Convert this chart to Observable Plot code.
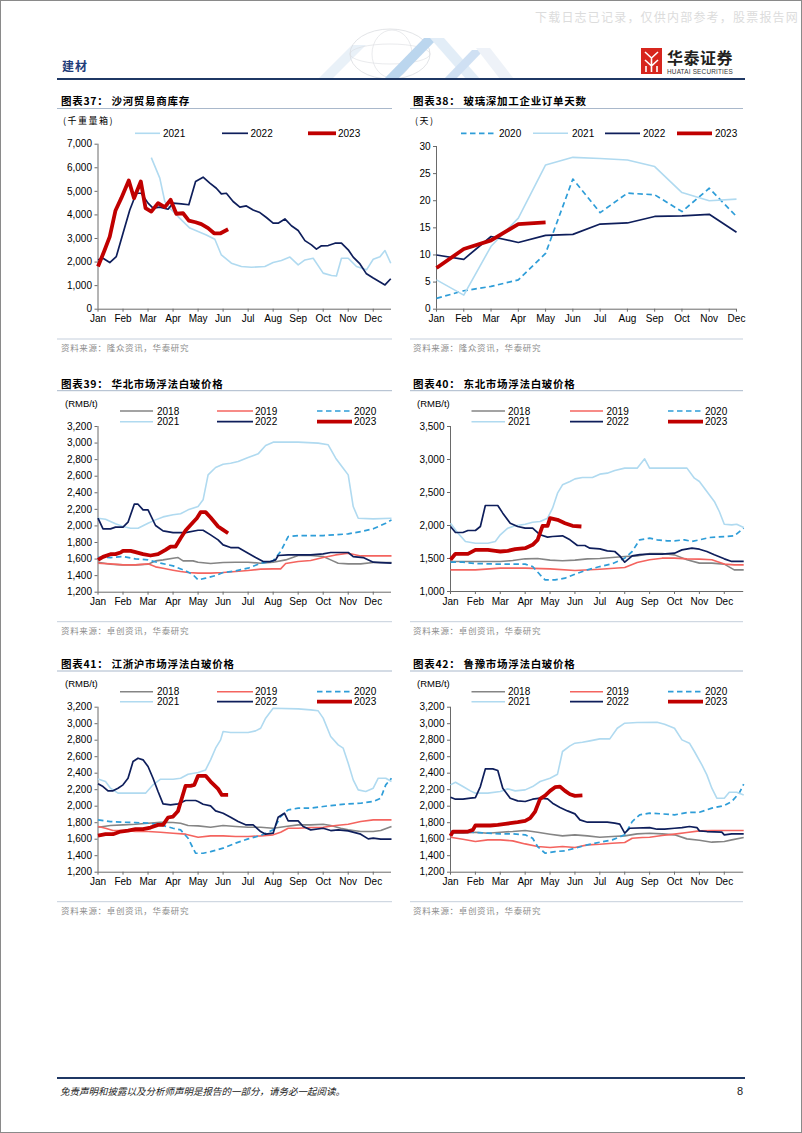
<!DOCTYPE html>
<html><head><meta charset="utf-8">
<script src="https://cdn.jsdelivr.net/npm/d3@7"></script>
<script src="https://cdn.jsdelivr.net/npm/@observablehq/plot@0.6"></script>
<style>
html,body{margin:0;padding:0;background:#fff;}
#page{position:relative;width:802px;height:1133px;overflow:hidden;box-sizing:border-box;border:1px solid #8a8a8a;background:#fff;}
.chart{position:absolute;}
</style></head>
<body><div id="page"></div>
<script>
// ---------- labels ----------
const months = ["Jan","Feb","Mar","Apr","May","Jun","Jul","Aug","Sep","Oct","Nov","Dec"];
const seriesNames = ["2018","2019","2020","2021","2022","2023"];

// ---------- Chart 37: 沙河贸易商库存 (千重量箱), x = month index ----------
const c37_2021 = [[2.13,6430],[2.47,5560],[2.67,4570],[2.87,4290],[3.2,3930],[3.67,3440],[4.0,3300],[4.33,3150],[4.67,2970],[4.93,2300],[5.33,1950],[5.73,1810],[6.13,1780],[6.67,1810],[7.0,1980],[7.33,2070],[7.67,2210],[8.0,1880],[8.27,2090],[8.6,2160],[9.0,1530],[9.33,1430],[9.53,1410],[9.73,2160],[10.0,2160],[10.33,1810],[10.73,1670],[11.0,2120],[11.27,2230],[11.47,2490],[11.7,1950]];
const c37_2022 = [[0,2100],[0.2,2160],[0.47,1980],[0.73,2230],[1.0,3220],[1.27,4210],[1.53,4920],[1.73,4920],[2.0,4500],[2.2,4290],[2.47,4330],[2.8,4240],[3.0,4500],[3.33,4470],[3.63,4430],[3.9,5420],[4.2,5600],[4.47,5350],[4.73,5130],[4.93,4890],[5.13,4920],[5.4,4570],[5.67,4330],[5.93,4380],[6.2,4210],[6.47,4100],[6.73,3890],[7.0,3650],[7.2,3650],[7.47,3830],[7.73,3540],[8.0,3340],[8.27,2910],[8.53,2730],[8.73,2550],[8.93,2690],[9.2,2700],[9.47,2800],[9.73,2800],[10.0,2520],[10.2,2210],[10.47,1920],[10.73,1500],[11.0,1320],[11.27,1150],[11.47,1030],[11.7,1290]];
const c37_2023 = [[0,1810],[0.27,2520],[0.47,3080],[0.7,4190],[0.93,4710],[1.23,5460],[1.44,4710],[1.71,5420],[1.9,4290],[2.13,4140],[2.4,4500],[2.67,4330],[2.9,4640],[3.13,4050],[3.4,4070],[3.63,3760],[3.9,3690],[4.13,3610],[4.4,3440],[4.64,3220],[4.9,3220],[5.2,3390]];
const c37_yTicks = [0,1000,2000,3000,4000,5000,6000,7000];

// ---------- Chart 38: 玻璃深加工企业订单天数 (天), monthly ----------
const c38_2020 = [2.0,3.4,4.2,5.4,10.3,24.0,17.8,21.4,21.1,18.0,22.3,17.1];
const c38_2021 = [5.4,2.6,11.6,16.8,26.6,28.0,27.8,27.5,26.3,21.5,20.0,20.3];
const c38_2022 = [10.0,9.2,13.4,12.3,13.6,13.8,15.7,15.9,17.1,17.2,17.5,14.2];
const c38_2023 = [7.6,11.1,12.7,15.7,16.0];
const c38_yTicks = [0,5,10,15,20,25,30];

// ---------- Chart 39: 华北市场浮法白玻价格 ----------
const c39_2018 = [[0,1562],[0.5,1538],[1,1530],[1.5,1530],[2,1538],[2.3,1578],[2.6,1590],[3,1610],[3.2,1618],[3.4,1578],[3.8,1578],[4,1562],[4.5,1546],[5,1558],[5.5,1562],[6,1562],[6.5,1550],[7,1562],[7.5,1590],[8,1643],[8.5,1643],[9,1630],[9.3,1590],[9.6,1550],[10,1542],[10.5,1542],[11,1558],[11.73,1558]];
const c39_2019 = [[0,1550],[0.5,1542],[1,1530],[1.5,1530],[2,1542],[2.3,1506],[2.6,1490],[3,1466],[3.3,1450],[3.6,1437],[4,1430],[4.5,1430],[5,1437],[5.5,1450],[6,1462],[6.5,1478],[7,1482],[7.3,1482],[7.5,1546],[8,1570],[8.5,1582],[9,1618],[9.5,1650],[10,1670],[10.5,1638],[11,1638],[11.73,1638]];
const c39_2020 = [[0,1622],[0.5,1618],[1,1630],[1.5,1602],[2,1590],[2.5,1550],[3,1518],[3.5,1458],[3.8,1410],[4,1349],[4.3,1369],[4.7,1401],[5,1437],[5.5,1458],[6,1490],[6.5,1550],[7,1578],[7.3,1691],[7.6,1872],[8,1884],[9,1884],[10,1904],[10.5,1932],[11,1965],[11.5,2033],[11.73,2073]];
const c39_2021 = [[0,2093],[0.3,2081],[0.7,2025],[1,1993],[1.3,1972],[1.6,1972],[2,2033],[2.3,2073],[2.6,2109],[3,2134],[3.3,2146],[3.6,2194],[4,2234],[4.2,2315],[4.4,2616],[4.7,2705],[5,2745],[5.3,2757],[5.6,2777],[6,2826],[6.4,2870],[6.7,2971],[7,3011],[8,3011],[8.8,2999],[9.2,2979],[9.5,2818],[9.8,2697],[10,2616],[10.2,2234],[10.4,2093],[11,2085],[11.73,2093]];
const c39_2022 = [[0,2093],[0.2,1965],[0.5,1965],[0.7,1985],[1,1985],[1.2,2045],[1.45,2262],[1.6,2262],[1.8,2194],[2,2194],[2.3,2005],[2.6,1940],[3,1920],[3.5,1920],[4,1948],[4.2,1948],[4.5,1892],[4.8,1832],[5,1771],[5.3,1739],[5.6,1739],[6,1671],[6.3,1618],[6.6,1570],[6.9,1570],[7.1,1590],[7.2,1643],[7.6,1651],[8.5,1651],[9,1663],[9.3,1679],[10,1679],[10.2,1630],[10.6,1618],[11,1562],[11.3,1558],[11.73,1550]];
const c39_2023 = [[0,1590],[0.2,1626],[0.5,1659],[0.7,1659],[0.9,1679],[1,1699],[1.3,1699],[1.5,1683],[1.8,1659],[2.1,1643],[2.4,1659],[2.7,1711],[2.9,1751],[3.1,1751],[3.3,1852],[3.5,1944],[3.8,2045],[3.95,2093],[4.1,2166],[4.3,2166],[4.5,2101],[4.8,1993],[5,1952],[5.2,1912]];

// ---------- Chart 40: 东北市场浮法白玻价格 ----------
const c40_2018 = [[0,1455],[1,1455],[2,1455],[2.5,1470],[3,1495],[3.5,1500],[4,1475],[4.5,1465],[5,1475],[5.5,1495],[6,1500],[6.5,1515],[7,1530],[7.5,1540],[8,1575],[8.5,1575],[9,1555],[9.5,1480],[10,1430],[10.5,1430],[11,1415],[11.4,1328],[11.78,1328]];
const c40_2019 = [[0,1328],[1,1328],[2,1354],[3,1354],[4,1343],[5,1318],[6,1338],[7,1364],[7.5,1440],[8,1480],[8.5,1505],[9,1505],[9.5,1495],[10,1490],[10.5,1480],[11,1415],[11.4,1404],[11.78,1404]];
const c40_2020 = [[0,1444],[0.5,1444],[1,1424],[2,1414],[3,1414],[3.3,1378],[3.6,1253],[3.8,1177],[4.2,1177],[4.6,1202],[5,1263],[5.5,1328],[6,1378],[6.5,1419],[7,1505],[7.3,1606],[7.6,1783],[8,1808],[8.3,1783],[8.7,1768],[9,1768],[9.4,1783],[9.7,1758],[10,1783],[10.4,1818],[11,1833],[11.4,1843],[11.78,1960]];
const c40_2021 = [[0,2035],[0.3,1884],[0.6,1758],[1,1732],[1.5,1732],[1.8,1758],[2,1859],[2.3,1960],[2.6,1995],[3,2020],[3.3,2050],[3.6,2060],[3.9,2111],[4.1,2263],[4.3,2490],[4.5,2616],[4.8,2667],[5,2707],[5.3,2727],[5.7,2727],[6,2778],[6.3,2793],[6.6,2833],[7,2869],[7.5,2869],[7.8,3010],[8,2869],[9.5,2869],[9.8,2717],[10,2667],[10.3,2515],[10.6,2364],[10.8,2212],[11,2020],[11.3,2010],[11.5,2020],[11.78,1970]];
const c40_2022 = [[0,1985],[0.2,1894],[0.5,1894],[0.7,1924],[1,1924],[1.2,1985],[1.4,2303],[1.9,2303],[2.1,2187],[2.4,2035],[2.7,1985],[3,1960],[3.3,1960],[3.6,1859],[3.9,1823],[4.1,1833],[4.5,1843],[4.8,1783],[5.1,1697],[5.4,1697],[5.6,1657],[6,1646],[6.3,1616],[6.6,1606],[6.8,1540],[7,1444],[7.3,1540],[7.6,1560],[8,1566],[8.5,1566],[9,1581],[9.3,1631],[9.7,1657],[10,1641],[10.3,1606],[10.6,1556],[11,1495],[11.3,1455],[11.78,1455]];
const c40_2023 = [[0,1480],[0.2,1571],[0.7,1571],[1,1631],[1.5,1631],[1.8,1616],[2,1606],[2.3,1616],[2.6,1641],[3,1657],[3.3,1707],[3.5,1783],[3.7,1995],[3.9,1995],[4,2111],[4.3,2086],[4.6,2035],[4.9,1995],[5.26,1985]];

// ---------- Chart 41: 江浙沪市场浮法白玻价格 ----------
const c41_2018 = [[0,1745],[0.5,1766],[1,1774],[1.5,1782],[2,1794],[2.5,1806],[3,1802],[3.3,1794],[3.6,1766],[4,1762],[4.5,1745],[5,1766],[5.5,1754],[6,1745],[6.5,1745],[7,1733],[7.5,1754],[8,1774],[8.5,1774],[9,1782],[9.3,1766],[9.7,1733],[10,1713],[10.5,1693],[11,1693],[11.3,1705],[11.73,1754]];
const c41_2019 = [[0,1754],[0.3,1733],[0.6,1705],[1,1705],[1.5,1693],[2,1693],[2.5,1685],[3,1673],[3.5,1661],[4,1624],[4.5,1640],[5,1640],[5.5,1632],[6,1632],[6.5,1640],[7,1653],[7.3,1685],[7.6,1733],[8,1733],[8.5,1741],[9,1745],[9.5,1766],[10,1782],[10.5,1814],[11,1834],[11.73,1834]];
const c41_2020 = [[0,1834],[0.5,1814],[1,1806],[1.5,1802],[2,1794],[2.5,1774],[3,1733],[3.3,1713],[3.6,1612],[3.9,1430],[4.2,1430],[4.5,1450],[5,1491],[5.5,1552],[6,1604],[6.5,1644],[7,1713],[7.3,1875],[7.6,1956],[8,1976],[8.5,1976],[9,1996],[9.3,2008],[10,2028],[10.5,2036],[11,2057],[11.3,2097],[11.5,2259],[11.73,2339]];
const c41_2021 = [[0,2331],[0.3,2299],[0.5,2218],[0.8,2158],[1.9,2158],[2.2,2259],[2.5,2327],[3,2327],[3.3,2339],[3.6,2388],[4,2408],[4.3,2440],[4.5,2562],[4.7,2703],[4.9,2804],[5,2905],[5.3,2893],[6,2893],[6.3,2913],[6.5,2945],[6.7,3067],[7,3188],[8,3180],[8.5,3168],[8.8,3156],[9,3067],[9.3,2844],[9.6,2743],[9.8,2703],[10,2521],[10.2,2319],[10.4,2198],[10.7,2178],[11,2218],[11.2,2339],[11.5,2339],[11.73,2299]];
const c41_2022 = [[0,2271],[0.2,2238],[0.4,2186],[0.6,2186],[0.8,2218],[1,2259],[1.2,2339],[1.4,2541],[1.6,2582],[1.8,2562],[2,2481],[2.2,2339],[2.4,2178],[2.6,2028],[2.9,2016],[3.2,2028],[3.5,2069],[3.9,2069],[4,2057],[4.2,2024],[4.5,2004],[4.7,1943],[5,1915],[5.3,1867],[5.6,1814],[5.9,1774],[6.2,1774],[6.5,1693],[6.7,1661],[7,1673],[7.2,1867],[7.45,1915],[7.6,1822],[8,1822],[8.2,1754],[8.5,1713],[9,1733],[9.3,1705],[9.6,1713],[10,1701],[10.5,1661],[10.8,1604],[11,1612],[11.3,1600],[11.73,1600]];
const c41_2023 = [[0,1644],[0.3,1661],[0.6,1661],[0.9,1693],[1.2,1705],[1.5,1721],[1.8,1721],[2.1,1741],[2.4,1774],[2.6,1774],[2.8,1863],[3,1875],[3.2,1943],[3.35,2097],[3.5,2247],[3.7,2247],[3.85,2259],[4,2368],[4.3,2368],[4.5,2299],[4.8,2210],[4.95,2137],[5.2,2137]];

// ---------- Chart 42: 鲁豫市场浮法白玻价格 ----------
const c42_2018 = [[0,1673],[0.5,1673],[1,1685],[1.5,1673],[2,1685],[2.5,1693],[3,1705],[3.5,1685],[4,1661],[4.5,1640],[5,1653],[5.5,1640],[6,1624],[6.5,1632],[7,1640],[7.5,1665],[8,1673],[8.5,1665],[9,1653],[9.5,1604],[10,1588],[10.5,1564],[11,1572],[11.3,1592],[11.78,1620]];
const c42_2019 = [[0,1624],[0.5,1600],[1,1572],[1.5,1592],[2,1592],[2.5,1580],[3,1543],[3.5,1511],[4,1499],[4.5,1511],[5,1499],[5.5,1531],[6,1539],[6.5,1551],[7,1560],[7.3,1612],[7.7,1620],[8,1624],[8.5,1644],[9,1661],[9.5,1681],[10,1701],[10.5,1705],[11,1705],[11.78,1705]];
const c42_2020 = [[0,1693],[0.5,1693],[1,1681],[1.5,1673],[2,1665],[2.5,1665],[3,1653],[3.3,1612],[3.5,1511],[3.8,1430],[4.2,1450],[4.6,1459],[5,1491],[5.5,1531],[6,1564],[6.5,1592],[7,1653],[7.3,1814],[7.6,1895],[8,1915],[8.5,1907],[9,1895],[9.5,1923],[10,1927],[10.5,1976],[11,2008],[11.3,2057],[11.6,2158],[11.78,2267]];
const c42_2021 = [[0,2259],[0.2,2291],[0.5,2238],[0.8,2186],[1,2158],[1.5,2158],[2,2178],[2.3,2210],[2.6,2186],[3,2198],[3.3,2238],[3.6,2299],[4,2339],[4.3,2388],[4.5,2663],[4.8,2731],[5,2764],[5.3,2776],[5.6,2792],[6,2816],[6.4,2816],[6.7,2945],[7,3006],[7.5,3014],[8.3,3018],[8.6,2994],[9,2945],[9.3,2804],[9.6,2764],[9.8,2663],[10.1,2501],[10.3,2380],[10.5,2218],[10.7,2097],[11,2097],[11.2,2170],[11.5,2170],[11.78,2137]];
const c42_2022 = [[0,2109],[0.2,2085],[0.5,2085],[0.8,2097],[1,2105],[1.2,2238],[1.4,2452],[1.7,2452],[1.9,2432],[2.1,2218],[2.4,2097],[2.7,2065],[3,2057],[3.3,2085],[3.6,2097],[3.9,2089],[4.1,2036],[4.4,1984],[4.7,1943],[5,1907],[5.2,1834],[5.5,1806],[6.3,1806],[6.6,1794],[6.8,1782],[7,1673],[7.2,1733],[8,1741],[8.3,1721],[8.6,1721],[9,1733],[9.3,1741],[9.6,1754],[9.9,1741],[10,1701],[10.3,1693],[10.9,1685],[11,1653],[11.3,1665],[11.78,1665]];
const c42_2023 = [[0,1640],[0.1,1693],[0.7,1693],[0.9,1713],[1,1766],[1.6,1766],[1.9,1774],[2.2,1786],[2.4,1794],[2.7,1806],[3,1822],[3.2,1855],[3.4,1935],[3.6,2089],[3.8,2129],[4,2186],[4.2,2230],[4.4,2238],[4.6,2186],[4.8,2145],[5,2125],[5.3,2130]];
const priceTicks = [1200,1400,1600,1800,2000,2200,2400,2600,2800,3000,3200];
const c40_yTicks = [1000,1500,2000,2500,3000,3500];

// ---------- styles (separate from data) ----------
const STY = {
  "2018": {stroke:"#858585", strokeWidth:1.6},
  "2019": {stroke:"#F4645F", strokeWidth:1.6},
  "2020": {stroke:"#2E9DD8", strokeWidth:1.7, strokeDasharray:"5.5,3.5"},
  "2021": {stroke:"#B0DAF0", strokeWidth:1.6},
  "2022": {stroke:"#0E1E5B", strokeWidth:1.7},
  "2023": {stroke:"#C00000", strokeWidth:3.8}
};
const AXIS = "#6a6a6a";
const FONT = "'Liberation Sans', Arial, sans-serif";
const CJK = "'Noto Sans CJK SC', 'Noto Sans', sans-serif";

const page = document.getElementById("page");

function drawChart(cfg) {
  const marks = [
    Plot.axisY({ticks: cfg.yTicks, tickFormat: d3.format(","), tickSize: 3, tickPadding: 3, stroke: AXIS, fill: "#000", label: null}),
    Plot.axisX({ticks: d3.range(12), tickFormat: i => months[i], tickSize: 3, tickPadding: 3, stroke: AXIS, fill: "#000", label: null}),
    Plot.ruleX([cfg.xDomain[0]], {stroke: AXIS, strokeWidth: 1}),
    Plot.ruleY([cfg.yDomain[0]], {stroke: AXIS, strokeWidth: 1})
  ];
  for (const [name, data] of cfg.series) {
    marks.push(Plot.line(data, {x: d => d[0], y: d => d[1], ...STY[name], strokeLinejoin: "round", strokeLinecap: "butt"}));
  }
  const svg = Plot.plot({
    width: cfg.width, height: cfg.height,
    marginLeft: cfg.mL, marginRight: cfg.mR, marginTop: cfg.mT, marginBottom: cfg.mB,
    x: {domain: cfg.xDomain},
    y: {domain: cfg.yDomain},
    style: {fontFamily: FONT, fontSize: "10px", color: "#000", background: "transparent", overflow: "visible"},
    marks
  });
  const div = document.createElement("div");
  div.className = "chart";
  div.style.left = cfg.left + "px";
  div.style.top = cfg.top + "px";
  div.appendChild(svg);
  page.appendChild(div);
}

const monthly = arr => arr.map((v, i) => [i, v]);

drawChart({left:50, top:135, width:350, height:195, mL:46.5, mR:10, mT:7.7, mB:22.3,
  xDomain:[0,11.73], yDomain:[0,7000], yTicks:c37_yTicks,
  series:[["2021",c37_2021],["2022",c37_2022],["2023",c37_2023]]});
drawChart({left:400, top:135, width:360, height:195, mL:35, mR:25, mT:10, mB:22.3,
  xDomain:[0,11], yDomain:[0,30], yTicks:c38_yTicks,
  series:[["2020",monthly(c38_2020)],["2021",monthly(c38_2021)],["2022",monthly(c38_2022)],["2023",monthly(c38_2023)]]});
const six = (a,b,c,d,e,f) => [["2018",a],["2019",b],["2020",c],["2021",d],["2022",e],["2023",f]];
drawChart({left:50, top:415, width:350, height:195, mL:46.5, mR:10, mT:10, mB:19.3,
  xDomain:[0,11.73], yDomain:[1200,3200], yTicks:priceTicks,
  series:six(c39_2018,c39_2019,c39_2020,c39_2021,c39_2022,c39_2023)});
drawChart({left:400, top:415, width:360, height:195, mL:49, mR:17.8, mT:10, mB:20,
  xDomain:[0,11.78], yDomain:[1000,3500], yTicks:c40_yTicks,
  series:six(c40_2018,c40_2019,c40_2020,c40_2021,c40_2022,c40_2023)});
drawChart({left:50, top:695, width:350, height:195, mL:46.5, mR:10, mT:10.7, mB:19.3,
  xDomain:[0,11.73], yDomain:[1200,3200], yTicks:priceTicks,
  series:six(c41_2018,c41_2019,c41_2020,c41_2021,c41_2022,c41_2023)});
drawChart({left:400, top:695, width:360, height:195, mL:49, mR:17.8, mT:10.7, mB:19.3,
  xDomain:[0,11.78], yDomain:[1200,3200], yTicks:priceTicks,
  series:six(c42_2018,c42_2019,c42_2020,c42_2021,c42_2022,c42_2023)});

// ---------- overlay: header, titles, legends, sources, footer ----------
const NS = "http://www.w3.org/2000/svg";
const ov = document.createElementNS(NS, "svg");
ov.setAttribute("width", 802); ov.setAttribute("height", 1133);
ov.style.position = "absolute"; ov.style.left = "-1px"; ov.style.top = "-1px"; ov.style.pointerEvents = "none";
page.appendChild(ov);
function el(tag, attrs, parent = ov) {
  const e = document.createElementNS(NS, tag);
  for (const k in attrs) e.setAttribute(k, attrs[k]);
  parent.appendChild(e);
  return e;
}
function txt(x, y, s, attrs = {}) {
  const t = el("text", Object.assign({x, y, "dominant-baseline": "central", "font-family": CJK, "font-size": 10, fill: "#000"}, attrs));
  t.textContent = s;
  return t;
}
function hline(x1, x2, y, stroke, w) { el("line", {x1, x2, y1: y, y2: y, stroke, "stroke-width": w}); }

// watermark
txt(535, 16, "下载日志已记录，仅供内部参考，股票报告网", {"font-size": 12, fill: "#dcdcdc", "letter-spacing": 1.2});
// decorative header graphic
const g = el("g", {opacity: 0.6});
el("polygon", {points: "318,79 352,45 366,45 332,79", fill: "#dbe8f4"}, g);
el("ellipse", {cx: 390, cy: 54, rx: 40, ry: 25, fill: "none", stroke: "#c4c8ce", "stroke-width": 0.8}, g);
el("ellipse", {cx: 392, cy: 54, rx: 20, ry: 24, fill: "none", stroke: "#c4c8ce", "stroke-width": 0.6}, g);
el("ellipse", {cx: 390, cy: 54, rx: 40, ry: 10, fill: "none", stroke: "#c4c8ce", "stroke-width": 0.6}, g);
el("polygon", {points: "384,79 424,38 438,38 398,79", fill: "#8fbbe3"}, g);
el("polygon", {points: "430,38 444,38 480,79 466,79", fill: "#d0e2f3"}, g);
el("polygon", {points: "444,79 472,50 484,50 456,79", fill: "#b0cdec"}, g);
el("polygon", {points: "476,48 490,48 514,79 500,79", fill: "#e3ebf4"}, g);
// header
txt(62, 65, "建材", {"font-size": 12, "font-weight": 700, fill: "#1f3d7a", "letter-spacing": 1});
hline(57, 745, 79, "#1f3864", 2);
// logo
el("rect", {x: 641, y: 48, width: 21, height: 26, fill: "#d7261e"});
el("path", {d: "M645,52 L651.5,58 L658,52 M645,60 L651.5,66 L658,60 M651.5,58 V72 M646,66 V72 M657,66 V72", stroke: "#fff", "stroke-width": 1.6, fill: "none"});
txt(667, 57, "华泰证券", {"font-size": 16, "font-weight": 700, fill: "#231f20", "letter-spacing": 0.5});
txt(667, 71, "HUATAI SECURITIES", {"font-size": 6.4, "font-family": FONT, fill: "#333", "letter-spacing": 0.2});

// panel decorations
const panels = [
  {x: 57, x2: 392, tx: 61, ty: 100, ul: 108.5, title: "图表37：  沙河贸易商库存", unit: "(千重量箱)", uy: 120, src: "资料来源：隆众资讯，华泰研究", sl: 339, sy: 347},
  {x: 410, x2: 743, tx: 413, ty: 100, ul: 108.5, title: "图表38：  玻璃深加工企业订单天数", unit: "(天)", uy: 120, src: "资料来源：隆众资讯，华泰研究", sl: 339, sy: 347},
  {x: 57, x2: 392, tx: 61, ty: 383, ul: 390.7, title: "图表39：  华北市场浮法白玻价格", unit: "(RMB/t)", uy: 403.5, src: "资料来源：卓创资讯，华泰研究", sl: 621.7, sy: 629.5},
  {x: 410, x2: 743, tx: 413, ty: 383, ul: 390.7, title: "图表40：  东北市场浮法白玻价格", unit: "(RMB/t)", uy: 403.5, src: "资料来源：卓创资讯，华泰研究", sl: 621.7, sy: 629.5},
  {x: 57, x2: 392, tx: 61, ty: 663.5, ul: 671, title: "图表41：  江浙沪市场浮法白玻价格", unit: "(RMB/t)", uy: 683.5, src: "资料来源：卓创资讯，华泰研究", sl: 901.7, sy: 909.5},
  {x: 410, x2: 743, tx: 413, ty: 663.5, ul: 671, title: "图表42：  鲁豫市场浮法白玻价格", unit: "(RMB/t)", uy: 683.5, src: "资料来源：卓创资讯，华泰研究", sl: 901.7, sy: 909.5}
];
for (const p of panels) {
  txt(p.tx, p.ty, p.title, {"font-size": 10.5, "font-weight": 700, "letter-spacing": 0.7});
  hline(p.x, p.x2, p.ul, "#a9b8cb", 1);
  const isRmb = p.unit.startsWith("(R");
  txt(p.tx + (isRmb ? 4 : 2), p.uy, p.unit, isRmb ? {"font-family": FONT, "font-size": 9.5} : {"font-size": 9, "letter-spacing": 1.5});
  hline(p.x, p.x2, p.sl, "#c5cfdc", 1);
  txt(p.tx, p.sy, p.src, {"font-size": 8.5, fill: "#8c8c8c", "letter-spacing": 0.65});
}

// legends
function legendItem(x1, x2, lx, y, name) {
  const s = STY[name];
  const a = {x1, x2, y1: y, y2: y, stroke: s.stroke, "stroke-width": s.strokeWidth};
  if (s.strokeDasharray) a["stroke-dasharray"] = s.strokeDasharray;
  el("line", a);
  txt(lx, y, name, {"font-family": FONT, "font-size": 10});
}
// chart 37
legendItem(135, 160, 163, 133.3, "2021");
legendItem(222, 248, 250.5, 133.3, "2022");
legendItem(308, 336, 338, 133.3, "2023");
// chart 38
legendItem(461, 497, 499, 133.3, "2020");
legendItem(533, 568, 572, 133.3, "2021");
legendItem(605, 640, 643, 133.3, "2022");
legendItem(677, 712, 715, 133.3, "2023");
// 6-series legends
function legend6(ox, y1, y2) {
  const cols = ox < 200 ? [[120,153,157],[217,253,255],[317,352,354]] : [[471.5,505,508],[570,603,606.5],[668,703,705]];
  const rows = [[y1, ["2018","2019","2020"]], [y2, ["2021","2022","2023"]]];
  for (const [y, names] of rows) names.forEach((n, i) => legendItem(cols[i][0], cols[i][1], cols[i][2], y, n));
}
legend6(50, 411, 421.7);
legend6(400, 411, 421.7);
legend6(50, 691.7, 701.7);
legend6(400, 691.7, 701.7);

// footer
hline(57, 745, 1078, "#1f3864", 2);
txt(60, 1091, "免责声明和披露以及分析师声明是报告的一部分，请务必一起阅读。", {"font-size": 9.5, "font-style": "italic", fill: "#222"});
txt(737, 1091, "8", {"font-family": FONT, "font-size": 11, fill: "#222"});
</script>
</body></html>
